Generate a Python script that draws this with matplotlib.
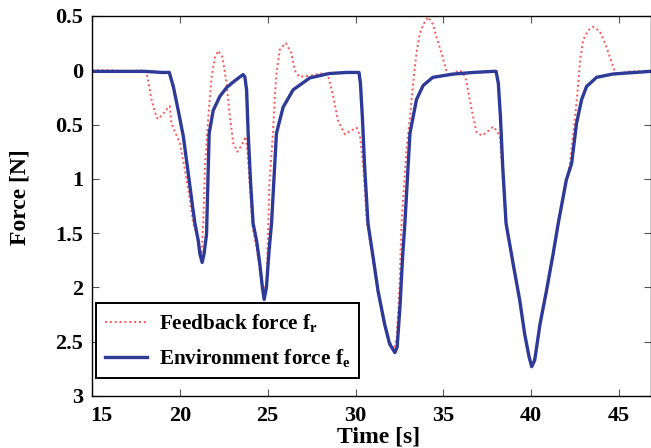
import matplotlib
matplotlib.use('Agg')
import matplotlib.pyplot as plt
import matplotlib.transforms as mtransforms
from matplotlib.ticker import FixedLocator, FixedFormatter

plt.rcParams['font.family'] = ['Liberation Serif', 'DejaVu Serif']
plt.rcParams['font.weight'] = 'bold'
plt.rcParams['mathtext.fontset'] = 'custom'
plt.rcParams['mathtext.rm'] = 'Liberation Serif:bold'
plt.rcParams['mathtext.it'] = 'Liberation Serif:bold'
plt.rcParams['mathtext.bf'] = 'Liberation Serif:bold'

# environment force f_e (blue)
t_env = [15, 16, 17, 18, 19, 19.4, 19.63, 19.91, 20.2, 20.48, 20.73, 20.86, 21.05, 21.14,
         21.27, 21.38, 21.52, 21.67, 21.9, 22.28, 22.66, 23.1, 23.6, 23.7, 23.8, 23.89,
         24.03, 24.17, 24.37, 24.55, 24.7, 24.8, 24.93, 25.08, 25.22, 25.5, 25.88, 26.45,
         27.4, 28.5, 29.5, 30.2, 30.28, 30.39, 30.52, 30.71, 31.0, 31.28, 31.66, 31.94,
         32.24, 32.37, 32.53, 32.68, 32.81, 33.1, 33.47, 33.85, 34.4, 35.55, 36.7, 37.83,
         38.0, 38.13, 38.25, 38.38, 38.57, 38.97, 39.35, 39.63, 39.88, 40.03, 40.2, 40.5,
         40.87, 41.25, 41.54, 42.0, 42.3, 42.58, 42.87, 43.15, 43.72, 44.67, 46.8]
f_env = [-0.01, -0.01, -0.01, -0.01, -0.02, -0.02, -0.15, -0.37, -0.61, -0.95, -1.26, -1.41,
         -1.57, -1.69, -1.77, -1.69, -1.51, -0.58, -0.37, -0.24, -0.16, -0.1, -0.04, -0.06,
         -0.18, -0.58, -1.04, -1.41, -1.57, -1.78, -2.0, -2.11, -2.0, -1.66, -1.41, -0.58,
         -0.34, -0.18, -0.07, -0.03, -0.02, -0.02, -0.12, -0.43, -0.89, -1.41, -1.72, -2.03,
         -2.34, -2.52, -2.6, -2.55, -2.18, -1.72, -1.41, -0.58, -0.27, -0.14, -0.065, -0.035,
         -0.02, -0.01, -0.01, -0.12, -0.43, -0.89, -1.41, -1.78, -2.12, -2.43, -2.64, -2.73,
         -2.67, -2.34, -2.03, -1.69, -1.41, -1.01, -0.86, -0.49, -0.27, -0.15, -0.065, -0.034,
         -0.01]

# feedback force f_r (red dotted)
t_fb = [15, 16, 17, 18, 18.1, 18.39, 18.67, 18.77, 19.05, 19.25, 19.43, 19.52, 20.0, 20.29,
        20.57, 20.76, 21.05, 21.23, 21.33, 21.43, 21.62, 21.81, 22.0, 22.19, 22.43, 22.66,
        22.85, 23.04, 23.27, 23.52, 23.74, 23.85, 24.0, 24.15, 24.35, 24.55, 24.7, 24.8,
        24.95, 25.1, 25.3, 25.4, 25.5, 25.69, 26.03, 26.35, 26.54, 26.8, 27.4, 28.0, 28.3,
        28.45, 28.73, 29.0, 29.2, 29.4, 29.68, 30.06, 30.25, 30.45, 30.65, 31.0, 31.28,
        31.66, 31.94, 32.2, 32.35, 32.5, 32.62, 32.9, 33.1, 33.28, 33.47, 33.66, 33.89,
        34.13, 34.42, 34.6, 34.89, 35.17, 35.4, 35.9, 36.1, 36.3, 36.5, 36.7, 36.89, 37.17,
        37.4, 37.83, 38.0, 38.22, 38.35, 38.55, 38.97, 39.35, 39.63, 39.88, 40.03, 40.2,
        40.5, 40.87, 41.25, 41.54, 42.0, 42.2, 42.5, 42.68, 42.78, 42.96, 43.25, 43.53,
        43.9, 44.2, 44.4, 44.63, 44.82, 45.5, 46.8]
f_fb = [0.0, 0.0, -0.01, 0.0, -0.01, -0.27, -0.43, -0.45, -0.4, -0.36, -0.33, -0.49, -0.67,
        -0.92, -1.19, -1.41, -1.56, -1.7, -1.41, -0.89, -0.43, -0.06, 0.12, 0.18, 0.12, -0.12,
        -0.43, -0.67, -0.75, -0.69, -0.61, -0.75, -1.1, -1.45, -1.62, -1.82, -2.0, -2.07,
        -1.9, -1.04, -0.58, -0.27, -0.03, 0.19, 0.25, 0.16, 0.0, -0.06, -0.05, -0.03, -0.03,
        -0.06, -0.24, -0.46, -0.53, -0.59, -0.56, -0.53, -0.6, -0.9, -1.4, -1.75, -2.05,
        -2.35, -2.5, -2.57, -2.45, -2.0, -1.41, -0.73, -0.43, -0.12, 0.16, 0.34, 0.43, 0.49,
        0.42, 0.31, 0.16, 0.0, -0.05, 0.0, -0.02, -0.09, -0.27, -0.43, -0.57, -0.6, -0.58,
        -0.52, -0.55, -0.61, -0.89, -1.41, -1.8, -2.12, -2.43, -2.63, -2.7, -2.65, -2.36,
        -2.05, -1.7, -1.42, -1.02, -0.86, -0.43, -0.12, 0.09, 0.28, 0.37, 0.4, 0.36, 0.25,
        0.16, 0.05, -0.04, -0.01, -0.01]

y_ticks = [0.5, 0, -0.5, -1, -1.5, -2, -2.5, -3]
y_tick_labels = ['0.5', '0', '0.5', '1', '1.5', '2', '2.5', '3']
x_ticks = [15, 20, 25, 30, 35, 40, 45]

fig = plt.figure(figsize=(6.51, 4.48), dpi=100)
ax = fig.add_axes([0.1413, 0.1161, 0.8587, 0.8482])

ax.plot(t_fb, f_fb, color='#ff2a2a', linestyle=(0, (1, 1.5)), linewidth=1.4, alpha=0.8,
        label=r'Feedback force f$_\mathrm{r}$')
ax.plot(t_env, f_env, color='#2e3a98', linewidth=2.4,
        label=r'Environment force f$_\mathrm{e}$')

ax.set_xlim(15, 46.82)
ax.set_ylim(-3, 0.5)
ax.xaxis.set_major_locator(FixedLocator(x_ticks))
ax.yaxis.set_major_locator(FixedLocator(y_ticks))
ax.yaxis.set_major_formatter(FixedFormatter(y_tick_labels))
ax.tick_params(direction='in', top=True, right=True, length=5, width=0.8,
               labelsize=16, pad=6.5, color='#555555')
ax.tick_params(axis='x', pad=7)
for s in ax.spines.values():
    s.set_linewidth(1.0)

# first x label sits a bit to the right, clear of the "3"
fig.canvas.draw()
first = ax.get_xticklabels()[0]
first.set_transform(first.get_transform() + mtransforms.ScaledTranslation(9 / 100, 0, fig.dpi_scale_trans))

ax.set_xlabel('Time [s]', fontsize=17, fontweight='bold')
ax.set_ylabel('Force [N]', fontsize=17, fontweight='bold')
ax.xaxis.set_label_coords(0.512, -0.08)
ax.yaxis.set_label_coords(-0.11, 0.524)

leg = ax.legend(loc='lower left', bbox_to_anchor=(0.1475, 0.1563), bbox_transform=fig.transFigure,
                prop={'size': 15.2, 'weight': 'bold'}, fancybox=False, borderaxespad=0,
                handlelength=2.0, handletextpad=0.55, borderpad=0.42, labelspacing=0.62)
leg.get_frame().set_edgecolor('black')
leg.get_frame().set_linewidth(1.4)
leg.get_frame().set_alpha(1)

fig.savefig('out.png', dpi=100)
